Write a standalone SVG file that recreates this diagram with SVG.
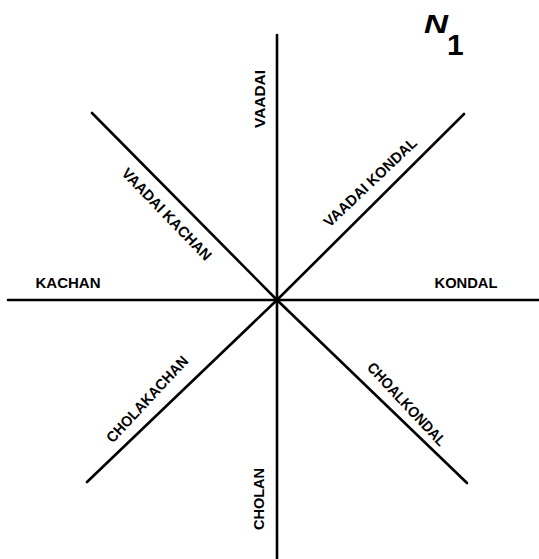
<svg xmlns="http://www.w3.org/2000/svg" width="539" height="559" viewBox="0 0 539 559">
  <style>
    .ln { stroke: #000; stroke-width: 2.6; stroke-linecap: round; fill: none; }
    .lb { font-family: "Liberation Sans", Arial, sans-serif; font-weight: bold; font-size: 15px; fill: #000; text-anchor: middle; }
    .hw { font-family: "Liberation Sans", Arial, sans-serif; font-weight: bold; fill: #000; }
  </style>
  <rect width="539" height="559" fill="#fff"/>
  <g id="connectors">
    <line class="ln" x1="277" y1="35" x2="277" y2="559"/>
    <line class="ln" x1="8" y1="300" x2="539" y2="300"/>
    <line class="ln" x1="92" y1="113" x2="277" y2="300"/>
    <line class="ln" x1="464" y1="114" x2="277" y2="300"/>
    <line class="ln" x1="467" y1="483" x2="277" y2="300"/>
    <line class="ln" x1="87" y1="482" x2="277" y2="300"/>
  </g>
  <g id="vaadai"><text class="lb" transform="translate(259,99) rotate(-90)" dy="5.5" textLength="58" lengthAdjust="spacingAndGlyphs">VAADAI</text></g>
  <g id="cholan"><text class="lb" transform="translate(258,499) rotate(-90)" dy="5.5" textLength="62" lengthAdjust="spacingAndGlyphs">CHOLAN</text></g>
  <g id="kachan"><text class="lb" x="68" y="288" textLength="65" lengthAdjust="spacingAndGlyphs">KACHAN</text></g>
  <g id="kondal"><text class="lb" x="466" y="288" textLength="63" lengthAdjust="spacingAndGlyphs">KONDAL</text></g>
  <g id="vaadai-kachan"><text class="lb" transform="translate(167,214) rotate(46)" dy="5.5" textLength="122" lengthAdjust="spacingAndGlyphs">VAADAI KACHAN</text></g>
  <g id="vaadai-kondal"><text class="lb" transform="translate(370,182) rotate(-43.5)" dy="5.5" textLength="122" lengthAdjust="spacingAndGlyphs">VAADAI KONDAL</text></g>
  <g id="cholakachan"><text class="lb" transform="translate(147,399) rotate(-47)" dy="5.5" textLength="112" lengthAdjust="spacingAndGlyphs">CHOLAKACHAN</text></g>
  <g id="choalkondal"><text class="lb" transform="translate(407,404) rotate(47)" dy="5.5" textLength="108" lengthAdjust="spacingAndGlyphs">CHOALKONDAL</text></g>
  <g id="north-mark">
    <text class="hw" x="424" y="33" font-size="25" font-style="italic" textLength="24" lengthAdjust="spacingAndGlyphs">N</text>
    <text class="hw" x="447" y="55" font-size="30">1</text>
  </g>
</svg>
